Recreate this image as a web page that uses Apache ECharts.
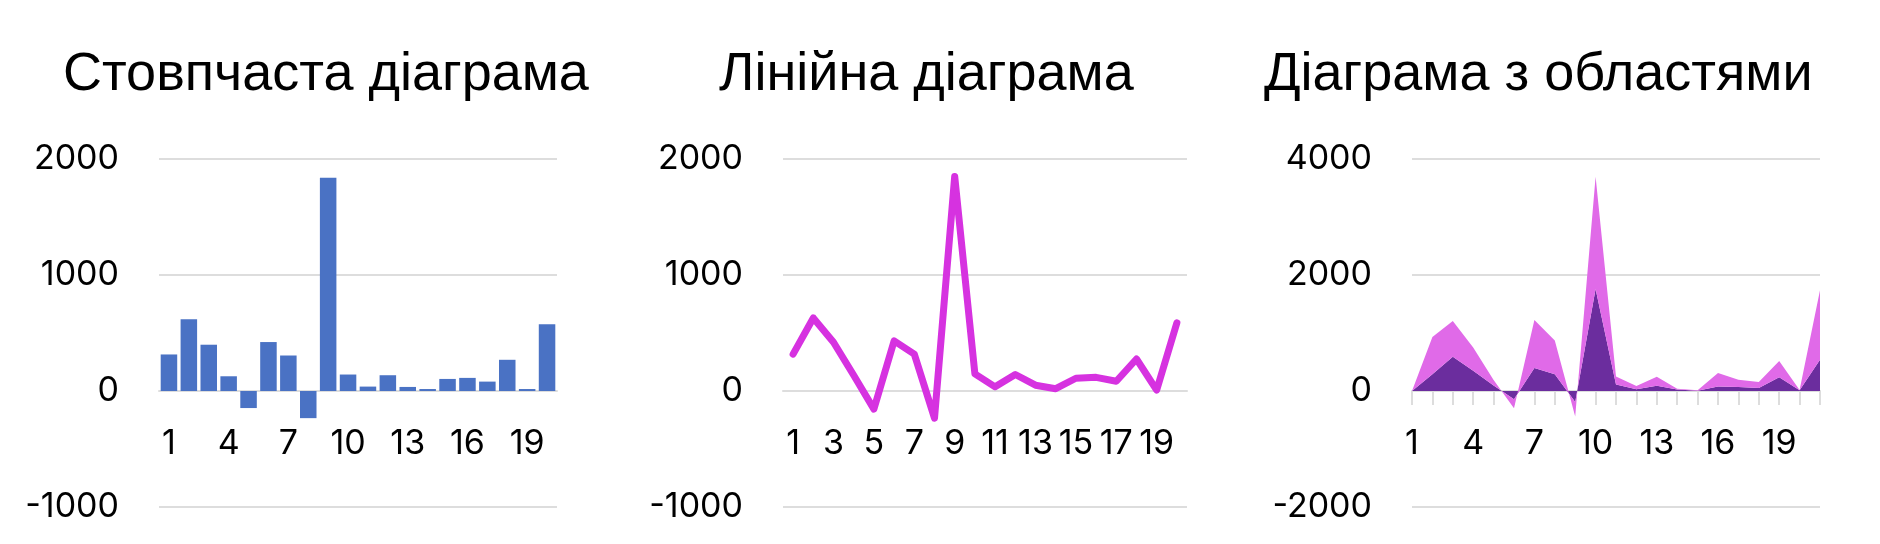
<!DOCTYPE html>
<html>
<head>
<meta charset="utf-8">
<script src="https://cdn.jsdelivr.net/npm/echarts@6/dist/echarts.min.js"></script>
<style>
html,body{margin:0;padding:0;background:#fff;}
#chart{width:1880px;height:544px;}
</style>
</head>
<body>
<div id="chart"></div>
<script>
// ---- data ----
const titles = ['Стовпчаста діаграма', 'Лінійна діаграма', 'Діаграма з областями'];
const categories20 = ['1','2','3','4','5','6','7','8','9','10','11','12','13','14','15','16','17','18','19','20'];
const categories21 = ['1','2','3','4','5','6','7','8','9','10','11','12','13','14','15','16','17','18','19','20','21'];
const barValues = [315, 618, 399, 127, -147, 422, 306, -234, 1838, 142, 38, 136, 35, 17, 104, 113, 81, 269, 17, 575];
const lineValues = [318, 630, 420, 136, -156, 432, 318, -234, 1850, 148, 36, 142, 50, 20, 110, 118, 84, 276, 8, 588];
const areaDark = [0, 290, 590, 350, 95, -143, 395, 290, -190, 1760, 110, 30, 90, 25, 6, 76, 70, 50, 238, 12, 540];
const areaPink = [0, 640, 615, 400, 95, -154, 830, 580, -250, 1935, 140, 56, 155, 15, 6, 235, 124, 105, 280, 6, 1196];
const yRange1 = {min: -1000, max: 2000, interval: 1000};
const yRange3 = {min: -2000, max: 4000, interval: 2000};
const labelStep1 = 3, labelStep2 = 2, labelStep3 = 3;

// ---- styles ----
const labelFont = {fontFamily: 'Inter', fontSize: 34, color: '#000'};
const gridColor = '#dddddd';
const gridTop = 159, gridHeight = 348;
const zeroOffset = -gridHeight / 3; // zero sits one third up from the bottom in both ranges

function yAxis(gi, r) {
  return {
    type: 'value', gridIndex: gi, min: r.min, max: r.max, interval: r.interval,
    axisLine: {show: false}, axisTick: {show: false},
    axisLabel: Object.assign({margin: 40, formatter: v => String(v)}, labelFont),
    splitLine: {lineStyle: {color: gridColor, width: 2}}
  };
}
function xAxis(gi, data, boundaryGap, step, ticks) {
  return {
    type: 'category', gridIndex: gi, data: data, boundaryGap: boundaryGap,
    position: 'bottom', offset: zeroOffset,
    axisLine: {onZero: false, lineStyle: {color: gridColor, width: 2}},
    axisTick: ticks ? {show: true, interval: 0, length: 14, lineStyle: {color: gridColor, width: 2}} : {show: false},
    axisLabel: Object.assign({interval: (i) => i % step === 0, margin: 36, hideOverlap: false}, labelFont)
  };
}

const chart = echarts.init(document.getElementById('chart'), null, {renderer: 'canvas'});
chart.setOption({
  animation: false,
  backgroundColor: '#fff',
  title: [
    {text: titles[0], left: 58, top: 43},
    {text: titles[1], left: 714, top: 43},
    {text: titles[2], left: 1259, top: 43}
  ].map(t => Object.assign(t, {textStyle: {fontFamily: 'Liberation Sans', fontSize: 54, fontWeight: 'normal', color: '#000'}})),
  grid: [
    {left: 159, width: 398, top: gridTop, height: gridHeight, containLabel: false, outerBoundsMode: 'none'},
    {left: 783, width: 404, top: gridTop, height: gridHeight, containLabel: false, outerBoundsMode: 'none'},
    {left: 1412, width: 408, top: gridTop, height: gridHeight, containLabel: false, outerBoundsMode: 'none'}
  ],
  xAxis: [
    xAxis(0, categories20, true, labelStep1, false),
    xAxis(1, categories20, true, labelStep2, false),
    xAxis(2, categories21, false, labelStep3, true)
  ],
  yAxis: [yAxis(0, yRange1), yAxis(1, yRange1), yAxis(2, yRange3)],
  series: [
    {type: 'bar', xAxisIndex: 0, yAxisIndex: 0, data: barValues, barCategoryGap: '17%',
     itemStyle: {color: '#4a72c4'}},
    {type: 'line', xAxisIndex: 1, yAxisIndex: 1, data: lineValues, symbol: 'none',
     lineStyle: {color: '#d632e0', width: 7, join: 'round', cap: 'round'}, itemStyle: {color: '#d632e0'}},
    {type: 'line', xAxisIndex: 2, yAxisIndex: 2, data: areaDark, stack: 'a', symbol: 'none',
     lineStyle: {width: 0}, areaStyle: {color: '#6b2d9e', opacity: 1}, itemStyle: {color: '#6b2d9e'}},
    {type: 'line', xAxisIndex: 2, yAxisIndex: 2, data: areaPink, stack: 'a', symbol: 'none',
     lineStyle: {width: 0}, areaStyle: {color: '#e06ae8', opacity: 1}, itemStyle: {color: '#e06ae8'}}
  ]
});
</script>
</body>
</html>
